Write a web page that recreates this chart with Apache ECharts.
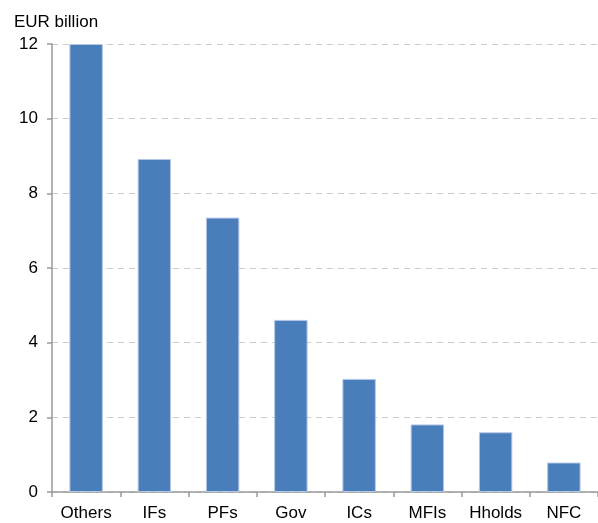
<!DOCTYPE html>
<html>
<head>
<meta charset="utf-8">
<script src="https://cdn.jsdelivr.net/npm/echarts@6/dist/echarts.min.js"></script>
<style>
  html, body { margin: 0; padding: 0; background: #fff; }
  #chart { width: 598px; height: 523px; }
</style>
</head>
<body>
<div id="chart"></div>
<script>
// sectors and holdings, EUR billion
const sectors = ['Others', 'IFs', 'PFs', 'Gov', 'ICs', 'MFIs', 'Hholds', 'NFC']
const holdings = [12.0, 8.92, 7.35, 4.61, 3.03, 1.81, 1.6, 0.79]
const yTicks = [0, 2, 4, 6, 8, 10, 12]

const font = 'Liberation Sans, Arial, sans-serif'

let chart = echarts.init(document.getElementById('chart'))

let option = {
  animation: false,
  title: {
    text: 'EUR billion',
    left: 9,
    top: 9,
    textStyle: {
      fontFamily: font,
      fontSize: 17,
      fontWeight: 'normal',
      color: '#000'
    }
  },
  grid: {
    top: 44,
    left: 52,
    right: -5,
    bottom: 31
  },
  xAxis: {
    type: 'category',
    data: sectors,
    axisLine: { lineStyle: { color: '#999', width: 1.5 } },
    axisTick: { show: true, length: 5, lineStyle: { color: '#999', width: 1.5 } },
    axisLabel: {
      fontFamily: font,
      fontSize: 17,
      color: '#000',
      margin: 13,
      interval: 0
    }
  },
  yAxis: {
    type: 'value',
    min: yTicks[0],
    max: yTicks[yTicks.length - 1],
    interval: 2,
    axisLine: { show: true, lineStyle: { color: '#999', width: 1.5 } },
    axisTick: { show: true, length: 5, lineStyle: { color: '#999', width: 1.5 } },
    axisLabel: {
      fontFamily: font,
      fontSize: 17,
      color: '#000',
      margin: 14
    },
    splitLine: {
      lineStyle: { color: '#ccc', type: [6, 5], width: 1.2 }
    }
  },
  series: [
    {
      type: 'bar',
      data: holdings,
      barWidth: '49%',
      itemStyle: {
        color: '#4a7ebb',
        borderColor: '#b4c8e6',
        borderWidth: 1
      }
    }
  ]
}

chart.setOption(option)
</script>
</body>
</html>
